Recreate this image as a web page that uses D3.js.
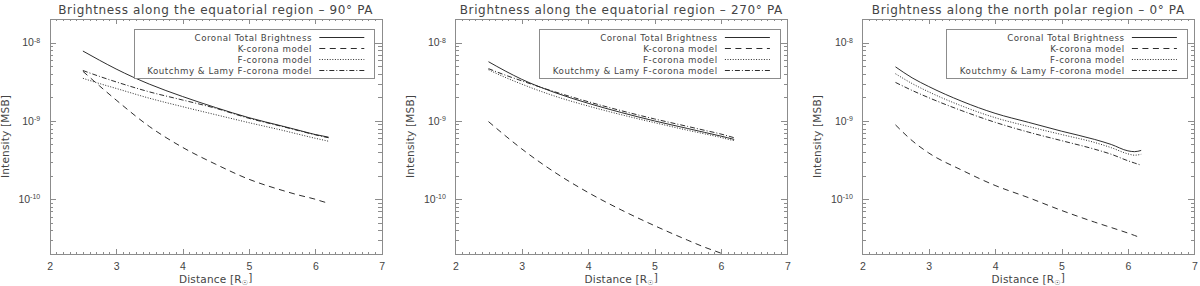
<!DOCTYPE html>
<html>
<head>
<meta charset="utf-8">
<script src="https://cdn.jsdelivr.net/npm/d3@7"></script>
<style>
  body { margin: 0; background: #fff; }
  svg { display: block; font-family: "DejaVu Sans", sans-serif; }
  .axis path, .axis line { stroke: #8c8c8c; shape-rendering: crispEdges; }
  .axis text { fill: #444; font-size: 10.5px; }
  .title { fill: #444; font-size: 12px; letter-spacing: 0.65px; }
  .axis-label { fill: #444; font-size: 10.5px; letter-spacing: 0.2px; }
  .legend-box { fill: #fff; stroke: #8c8c8c; shape-rendering: crispEdges; }
  .legend-text { fill: #444; font-size: 8.7px; letter-spacing: 0.5px; }
  .curve { fill: none; stroke: #222; stroke-width: 0.95; }
</style>
</head>
<body>
<svg id="chart" width="1200" height="286"></svg>
<script>
// Distance from Sun centre [R_sun], shared by every curve
const distance = [2.5, 2.75, 3.0, 3.5, 4.0, 4.5, 5.0, 5.5, 5.75, 6.0, 6.1, 6.2];

const panelTitles = [
  "Brightness along the equatorial region \u2013 90\u00b0 PA",
  "Brightness along the equatorial region \u2013 270\u00b0 PA",
  "Brightness along the north polar region \u2013 0\u00b0 PA"
];

const legendLabels = [
  "Coronal Total Brightness",
  "K-corona model",
  "F-corona model",
  "Koutchmy & Lamy F-corona model"
];

const xTicks = [2, 3, 4, 5, 6, 7];
const yTicks = [1e-8, 1e-9, 1e-10];

// 90 deg PA (equatorial, east)
const total90 = [7.8e-9, 5.95e-9, 4.6e-9, 2.95e-9, 2.05e-9, 1.48e-9, 1.1e-9, 8.6e-10, 7.6e-10, 6.7e-10, 6.45e-10, 6.2e-10];
const kCorona90 = [4.3e-9, 2.8e-9, 1.85e-9, 8.5e-10, 4.6e-10, 2.8e-10, 1.8e-10, 1.3e-10, 1.13e-10, 1.0e-10, 9.4e-11, 8.9e-11];
const fCorona90 = [3.5e-9, 3.0e-9, 2.6e-9, 1.95e-9, 1.52e-9, 1.2e-9, 9.5e-10, 7.6e-10, 6.75e-10, 6.0e-10, 5.75e-10, 5.5e-10];
const koutchmy90 = [4.4e-9, 3.7e-9, 3.15e-9, 2.35e-9, 1.85e-9, 1.45e-9, 1.08e-9, 8.5e-10, 7.5e-10, 6.65e-10, 6.35e-10, 6.1e-10];

// 270 deg PA (equatorial, west)
const total270 = [5.7e-9, 4.35e-9, 3.4e-9, 2.3e-9, 1.68e-9, 1.28e-9, 1.0e-9, 8.0e-10, 7.15e-10, 6.4e-10, 6.1e-10, 5.8e-10];
const kCorona270 = [9.8e-10, 6.5e-10, 4.4e-10, 2.2e-10, 1.22e-10, 7.3e-11, 4.6e-11, 3.0e-11, 2.45e-11, 2.05e-11, 1.9e-11, 1.8e-11];
const fCorona270 = [4.5e-9, 3.6e-9, 2.95e-9, 2.07e-9, 1.55e-9, 1.2e-9, 9.5e-10, 7.6e-10, 6.85e-10, 6.15e-10, 5.85e-10, 5.6e-10];
const koutchmy270 = [4.65e-9, 3.85e-9, 3.25e-9, 2.35e-9, 1.76e-9, 1.35e-9, 1.06e-9, 8.5e-10, 7.6e-10, 6.8e-10, 6.45e-10, 6.1e-10];

// 0 deg PA (north pole)
const total0 = [4.9e-9, 3.55e-9, 2.75e-9, 1.78e-9, 1.25e-9, 9.6e-10, 7.4e-10, 5.8e-10, 5.0e-10, 4.15e-10, 4.05e-10, 4.2e-10];
const kCorona0 = [8.9e-10, 5.6e-10, 3.9e-10, 2.35e-10, 1.5e-10, 1.05e-10, 7.2e-11, 5.1e-11, 4.35e-11, 3.7e-11, 3.45e-11, 3.2e-11];
const fCorona0 = [4.0e-9, 3.0e-9, 2.35e-9, 1.55e-9, 1.1e-9, 8.5e-10, 6.7e-10, 5.3e-10, 4.55e-10, 3.8e-10, 3.65e-10, 3.75e-10];
const koutchmy0 = [3.1e-9, 2.45e-9, 1.98e-9, 1.35e-9, 9.6e-10, 7.2e-10, 5.6e-10, 4.35e-10, 3.75e-10, 3.1e-10, 2.9e-10, 2.72e-10];

const panelSeries = [
  [total90, kCorona90, fCorona90, koutchmy90],
  [total270, kCorona270, fCorona270, koutchmy270],
  [total0, kCorona0, fCorona0, koutchmy0]
];

// IDL-like line styles: solid, dashed, dotted, dash-dot
const dashes = [null, "6,4.5", "1,1.6", "5,2,1,2"];

const svg = d3.select("#chart");
const plotW = 332, plotH = 235, plotTop = 19;
const panelLeft = [49.7, 455.3, 862.3];

const x = d3.scaleLinear().domain([2, 7]).range([0, plotW]);
const y = d3.scaleLog().domain([2e-11, 2e-8]).range([plotH, 0]);

const isDecade = (v) => Math.abs(Math.log10(v) - Math.round(Math.log10(v))) < 1e-6;
const xMinor = d3.range(20, 71).filter((i) => i % 10).map((i) => i / 10);
const yMinor = y.ticks().filter((v) => !isDecade(v) && v > 2.01e-11 && v < 1.99e-8);

const line = d3.line()
  .x((d) => x(d[0]))
  .y((d) => y(d[1]))
  .curve(d3.curveMonotoneX);

panelTitles.forEach((title, p) => {
  const g = svg.append("g").attr("transform", `translate(${panelLeft[p]},${plotTop})`);

  g.append("clipPath").attr("id", `clip${p}`)
    .append("rect").attr("width", plotW).attr("height", plotH);

  // minor ticks first, majors on top
  g.append("g").attr("class", "axis").attr("transform", `translate(0,${plotH})`)
    .call(d3.axisBottom(x).tickValues(xMinor).tickSize(-2.4).tickSizeOuter(0).tickFormat(""));
  g.append("g").attr("class", "axis")
    .call(d3.axisTop(x).tickValues(xMinor).tickSize(-2.4).tickSizeOuter(0).tickFormat(""));
  g.append("g").attr("class", "axis")
    .call(d3.axisLeft(y).tickValues(yMinor).tickSize(-3.3).tickSizeOuter(0).tickFormat(""));
  g.append("g").attr("class", "axis").attr("transform", `translate(${plotW},0)`)
    .call(d3.axisRight(y).tickValues(yMinor).tickSize(-3.3).tickSizeOuter(0).tickFormat(""));

  g.append("g").attr("class", "axis").attr("transform", `translate(0,${plotH})`)
    .call(d3.axisBottom(x).tickValues(xTicks).tickSize(-4.7).tickSizeOuter(0).tickPadding(8.5).tickFormat(d3.format("d")));
  g.append("g").attr("class", "axis")
    .call(d3.axisTop(x).tickValues(xTicks).tickSize(-4.7).tickSizeOuter(0).tickFormat(""));
  g.append("g").attr("class", "axis").attr("transform", `translate(${plotW},0)`)
    .call(d3.axisRight(y).tickValues(yTicks).tickSize(-6.6).tickSizeOuter(0).tickFormat(""));

  const yAxisG = g.append("g").attr("class", "axis")
    .call(d3.axisLeft(y).tickValues(yTicks).tickSize(-6.6).tickSizeOuter(0).tickPadding(9.5).tickFormat(""));
  yAxisG.selectAll(".tick text").each(function (d) {
    const t = d3.select(this).text("");
    t.append("tspan").text("10");
    t.append("tspan").attr("dy", "-0.55em").attr("font-size", "7px").text(Math.round(Math.log10(d)));
  });

  // curves
  const curves = g.append("g").attr("clip-path", `url(#clip${p})`);
  panelSeries[p].forEach((values, s) => {
    curves.append("path")
      .datum(distance.map((d, i) => [d, values[i]]))
      .attr("class", "curve")
      .attr("stroke-dasharray", dashes[s])
      .attr("d", line);
  });

  // legend
  const leg = g.append("g").attr("transform", "translate(84.6,10)");
  leg.append("rect").attr("class", "legend-box").attr("width", 240.4).attr("height", 49);
  legendLabels.forEach((label, s) => {
    const ly = 8.5 + s * 11;
    leg.append("text").attr("class", "legend-text")
      .attr("x", 177.7).attr("y", ly).attr("dy", "0.35em")
      .attr("text-anchor", "end").text(label);
    leg.append("line").attr("class", "curve")
      .attr("x1", 185).attr("x2", 230).attr("y1", ly).attr("y2", ly)
      .attr("stroke-dasharray", dashes[s]);
  });

  // titles and axis labels
  g.append("text").attr("class", "title")
    .attr("x", plotW / 2).attr("y", -5.5).attr("text-anchor", "middle").text(title);

  const xl = g.append("text").attr("class", "axis-label")
    .attr("x", plotW / 2).attr("y", plotH + 28.5).attr("text-anchor", "middle");
  xl.append("tspan").text("Distance [R");
  xl.append("tspan").attr("dy", "0.3em").attr("font-size", "7px").text("\u2609");
  xl.append("tspan").attr("dy", "-0.3em").text("]");

  g.append("text").attr("class", "axis-label")
    .attr("transform", `translate(-41,${plotH / 2}) rotate(-90)`)
    .attr("text-anchor", "middle").text("Intensity [MSB]");
});
</script>
</body>
</html>
